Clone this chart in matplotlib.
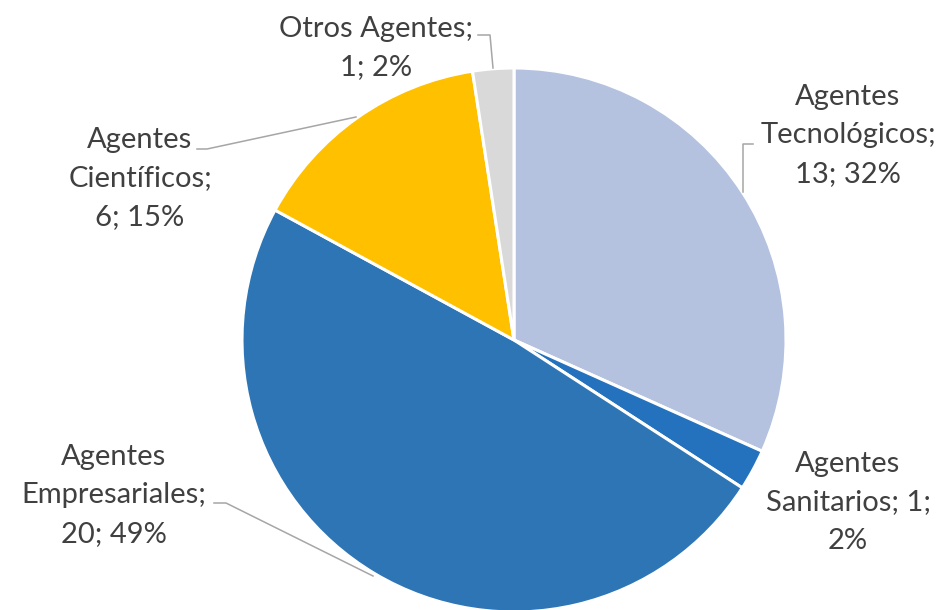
import matplotlib
matplotlib.use("Agg")
import matplotlib.pyplot as plt

# data (clockwise from 12 o'clock)
categorias = ["Agentes Tecnológicos", "Agentes Sanitarios", "Agentes Empresariales",
              "Agentes Científicos", "Otros Agentes"]
valores = [13, 1, 20, 6, 1]
colores = ["#B4C2E0", "#2472BE", "#2E75B6", "#FFC000", "#D9D9D9"]

total = sum(valores)
pcts = [round(100 * v / total) for v in valores]

# how each label wraps in the picture
lineas = [
    ["Agentes", "Tecnológicos;", "{v}; {p}%"],
    ["Agentes", "Sanitarios; {v};", "{p}%"],
    ["Agentes", "Empresariales;", "{v}; {p}%"],
    ["Agentes", "Científicos;", "{v}; {p}%"],
    ["Otros Agentes;", "{v}; {p}%"],
]
# label anchor (center x, first baseline) in pixels from top-left
pos_etq = [(848, 105), (848, 472), (114, 465), (140, 148), (376, 37)]
# leader lines, pixel coords
guias = [
    [(753, 144), (743, 144), (743, 192)],
    None,
    [(214, 503), (226, 503), (373, 576)],
    [(197, 149), (207, 149), (356, 117)],
    [(478, 35), (490, 35), (493, 68)],
]

W, H = 938, 610
fig = plt.figure(figsize=(W / 100, H / 100), dpi=100)
ax = fig.add_axes([0, 0, 1, 1])

ax.pie(valores, colors=colores, startangle=90, counterclock=False,
       center=(514, H - 340), radius=272,
       wedgeprops=dict(edgecolor="white", linewidth=2.2))

ax.set_xlim(0, W)
ax.set_ylim(0, H)
ax.axis("off")

paso = 38.5
for i in range(len(valores)):
    x, y0 = pos_etq[i]
    for k, l in enumerate(lineas[i]):
        txt = l.format(v=valores[i], p=pcts[i])
        ax.text(x, H - (y0 + k * paso), txt, ha="center", va="baseline",
                fontsize=21, color="#404040", family="Lato")
    if guias[i] is not None:
        xs = [p[0] for p in guias[i]]
        ys = [H - p[1] for p in guias[i]]
        ax.plot(xs, ys, color="#A6A6A6", lw=1.1)

fig.savefig("out.png", dpi=100)
